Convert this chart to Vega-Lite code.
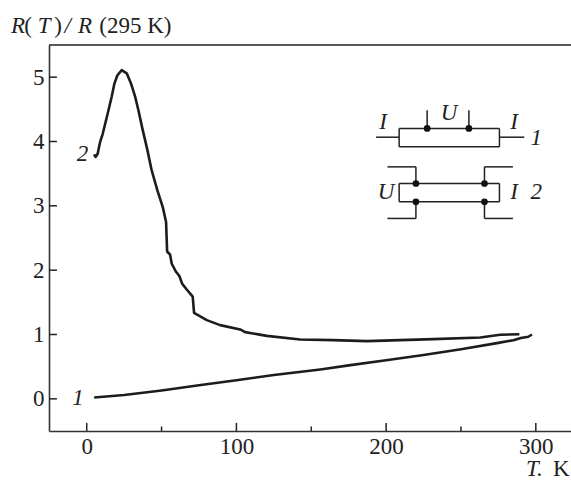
{
"$schema":"https://vega.github.io/schema/vega-lite/v6.json",
"width":522,"height":386,"autosize":"none",
"padding":{"left":49,"top":45,"right":0,"bottom":50},
"background":"white",
"config":{"view":{"stroke":null},"text":{"font":"Liberation Serif","fontSize":23,"color":"#222"}},
"datasets":{
"curves":[
{"curve":"1","T":5,"R":0.02},{"curve":"1","T":25,"R":0.06},{"curve":"1","T":50,"R":0.13},{"curve":"1","T":75,"R":0.21},{"curve":"1","T":100,"R":0.29},{"curve":"1","T":125,"R":0.37},{"curve":"1","T":156,"R":0.457},{"curve":"1","T":175,"R":0.52},{"curve":"1","T":200,"R":0.6},{"curve":"1","T":225,"R":0.68},{"curve":"1","T":250,"R":0.77},{"curve":"1","T":275,"R":0.87},{"curve":"1","T":285,"R":0.912},{"curve":"1","T":290,"R":0.945},{"curve":"1","T":295,"R":0.965},{"curve":"1","T":297.4,"R":1.0},
{"curve":"2","T":4.9,"R":3.80},{"curve":"2","T":6,"R":3.76},{"curve":"2","T":7.3,"R":3.81},{"curve":"2","T":8.9,"R":3.99},{"curve":"2","T":10.7,"R":4.12},{"curve":"2","T":12.7,"R":4.31},{"curve":"2","T":14.9,"R":4.52},{"curve":"2","T":16.7,"R":4.70},{"curve":"2","T":18.5,"R":4.90},{"curve":"2","T":20.5,"R":5.03},{"curve":"2","T":23.4,"R":5.11},{"curve":"2","T":26.7,"R":5.06},{"curve":"2","T":29.6,"R":4.90},{"curve":"2","T":32.3,"R":4.70},{"curve":"2","T":34.5,"R":4.49},{"curve":"2","T":37.2,"R":4.20},{"curve":"2","T":40.5,"R":3.87},{"curve":"2","T":43.4,"R":3.55},{"curve":"2","T":47.2,"R":3.24},{"curve":"2","T":50.8,"R":2.98},{"curve":"2","T":53,"R":2.75},{"curve":"2","T":53.7,"R":2.29},{"curve":"2","T":55.7,"R":2.24},{"curve":"2","T":56.8,"R":2.10},{"curve":"2","T":59.5,"R":1.98},{"curve":"2","T":61.9,"R":1.91},{"curve":"2","T":63.7,"R":1.79},{"curve":"2","T":66.8,"R":1.70},{"curve":"2","T":70.8,"R":1.59},{"curve":"2","T":71.7,"R":1.337},{"curve":"2","T":80.2,"R":1.223},{"curve":"2","T":89.1,"R":1.146},{"curve":"2","T":102.5,"R":1.079},{"curve":"2","T":105.8,"R":1.037},{"curve":"2","T":120.3,"R":0.979},{"curve":"2","T":142.6,"R":0.923},{"curve":"2","T":164.6,"R":0.912},{"curve":"2","T":187.1,"R":0.897},{"curve":"2","T":231.6,"R":0.928},{"curve":"2","T":262.9,"R":0.954},{"curve":"2","T":276.2,"R":0.995},{"curve":"2","T":289,"R":1.005}
],
"wires":[
{"a":-25.2,"b":323.5,"c":5.5,"d":5.5},
{"a":0,"b":0,"c":-0.5,"d":-0.375},{"a":100,"b":100,"c":-0.5,"d":-0.375},{"a":200,"b":200,"c":-0.5,"d":-0.375},{"a":300,"b":300,"c":-0.5,"d":-0.375},
{"a":50,"b":50,"c":-0.5,"d":-0.43},{"a":150,"b":150,"c":-0.5,"d":-0.43},{"a":250,"b":250,"c":-0.5,"d":-0.43},
{"a":-25.2,"b":-19.9,"c":0,"d":0},{"a":-25.2,"b":-19.9,"c":1,"d":1},{"a":-25.2,"b":-19.9,"c":2,"d":2},{"a":-25.2,"b":-19.9,"c":3,"d":3},{"a":-25.2,"b":-19.9,"c":4,"d":4},{"a":-25.2,"b":-19.9,"c":5,"d":5},
{"a":208.7,"b":275.7,"c":4.203,"d":4.203},{"a":208.7,"b":275.7,"c":3.917,"d":3.917},{"a":208.7,"b":208.7,"c":3.917,"d":4.203},{"a":275.7,"b":275.7,"c":3.917,"d":4.203},
{"a":193.3,"b":208.7,"c":4.067,"d":4.067},{"a":275.7,"b":292.3,"c":4.067,"d":4.067},{"a":227.4,"b":227.4,"c":4.203,"d":4.487},{"a":255.3,"b":255.3,"c":4.203,"d":4.487},
{"a":208.7,"b":275.7,"c":3.347,"d":3.347},{"a":208.7,"b":275.7,"c":3.062,"d":3.062},{"a":208.7,"b":208.7,"c":3.062,"d":3.347},{"a":275.7,"b":275.7,"c":3.062,"d":3.347},
{"a":219.9,"b":219.9,"c":3.347,"d":3.606},{"a":265.7,"b":265.7,"c":3.347,"d":3.606},{"a":200.9,"b":219.9,"c":3.606,"d":3.606},{"a":265.7,"b":284.7,"c":3.606,"d":3.606},
{"a":219.9,"b":219.9,"c":2.804,"d":3.062},{"a":265.7,"b":265.7,"c":2.804,"d":3.062},{"a":200.9,"b":219.9,"c":2.804,"d":2.804},{"a":265.7,"b":284.7,"c":2.804,"d":2.804}
],
"dots":[{"T":227.4,"R":4.203},{"T":255.3,"R":4.203},{"T":219.9,"R":3.347},{"T":265.7,"R":3.347},{"T":219.9,"R":3.062},{"T":265.7,"R":3.062}],
"italic":[{"T":-2.8,"R":3.81,"s":"2"},{"T":-5.8,"R":0.01,"s":"1"},{"T":198,"R":4.3,"s":"I"},{"T":242.1,"R":4.44,"s":"U"},{"T":285.5,"R":4.3,"s":"I"},{"T":300.3,"R":4.06,"s":"1"},{"T":200,"R":3.22,"s":"U"},{"T":285.5,"R":3.21,"s":"I"},{"T":300.3,"R":3.21,"s":"2"},{"T":-45.9,"R":5.79,"s":"R"},{"T":-28.5,"R":5.79,"s":"T"},{"T":-1.1,"R":5.79,"s":"R"},{"T":-12.8,"R":5.79,"s":"/"},{"T":299,"R":-1.09,"s":"T."}],
"roman":[{"T":-39.2,"R":5.79,"s":"("},{"T":-19.2,"R":5.79,"s":")"},{"T":32.5,"R":5.79,"s":"(295 K)"},{"T":317,"R":-1.09,"s":"K"}]
},
"layer":[
{"data":{"name":"curves"},"mark":{"type":"line","color":"#1c1c1c","strokeWidth":2.6,"strokeJoin":"round"},
"encoding":{"detail":{"field":"curve"},
"x":{"field":"T","type":"quantitative","scale":{"domain":[-25.2,323.5],"nice":false,"zero":false},
"axis":{"orient":"bottom","title":null,"grid":false,"values":[0,100,200,300],"format":"d","ticks":false,"domainColor":"#333","domainWidth":1.6,"labelFont":"Liberation Serif","labelFontSize":23,"labelColor":"#222","labelPadding":4,"labelAngle":0}},
"y":{"field":"R","type":"quantitative","scale":{"domain":[-0.5,5.5],"nice":false,"zero":false},
"axis":{"orient":"left","title":null,"grid":false,"values":[0,1,2,3,4,5],"format":"d","ticks":false,"domainColor":"#333","domainWidth":1.6,"labelFont":"Liberation Serif","labelFontSize":23,"labelColor":"#222","labelPadding":5}}}},
{"data":{"name":"wires"},"mark":{"type":"rule","color":"#222","strokeWidth":1.5},
"encoding":{"x":{"field":"a","type":"quantitative"},"x2":{"field":"b"},"y":{"field":"c","type":"quantitative"},"y2":{"field":"d"}}},
{"data":{"name":"dots"},"mark":{"type":"point","filled":true,"shape":"circle","size":45,"color":"#111","opacity":1},
"encoding":{"x":{"field":"T","type":"quantitative"},"y":{"field":"R","type":"quantitative"}}},
{"data":{"name":"italic"},"mark":{"type":"text","fontStyle":"italic","align":"center","baseline":"middle"},
"encoding":{"x":{"field":"T","type":"quantitative"},"y":{"field":"R","type":"quantitative"},"text":{"field":"s"}}},
{"data":{"name":"roman"},"mark":{"type":"text","align":"center","baseline":"middle"},
"encoding":{"x":{"field":"T","type":"quantitative"},"y":{"field":"R","type":"quantitative"},"text":{"field":"s"}}}
]
}
